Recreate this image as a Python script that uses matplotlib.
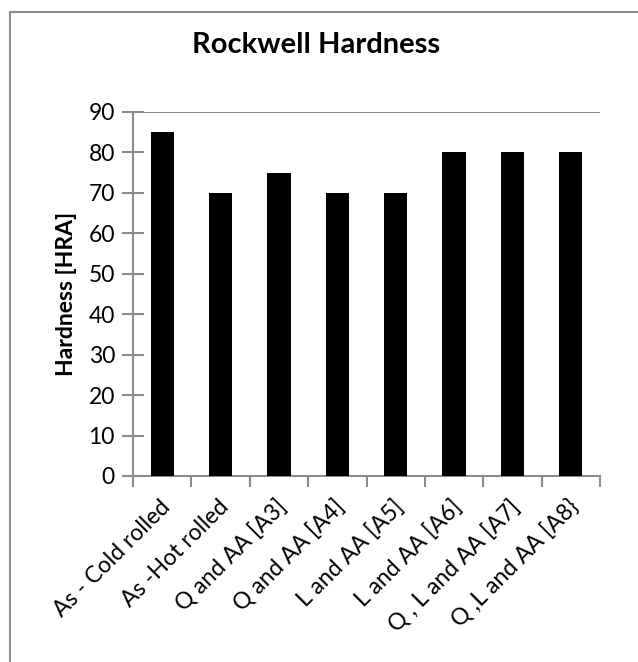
import matplotlib
matplotlib.use("Agg")
import matplotlib.pyplot as plt
from matplotlib.patches import Rectangle
import numpy as np

categories = ["As - Cold rolled", "As -Hot rolled", "Q and AA [A3]", "Q and AA [A4]",
              "L and AA [A5]", "L and AA [A6]", "Q , L and AA [A7]", "Q ,L and AA [A8}"]
hardness = [85, 70, 75, 70, 70, 80, 80, 80]
yticks = [0, 10, 20, 30, 40, 50, 60, 70, 80, 90]

plt.rcParams['font.family'] = ['Lato', 'DejaVu Sans']

W, H = 638, 662
fig = plt.figure(figsize=(W / 100, H / 100), dpi=100)
fig.patch.set_facecolor('white')

# figure border (Excel chart area)
fig.patches.append(Rectangle((10 / W, -0.1), 1.2, 1 - 12 / H + 0.1,
                             transform=fig.transFigure, fill=False,
                             edgecolor='#8c8c8c', linewidth=1.5, zorder=0))

ax = fig.add_axes([133 / W, 1 - 476 / H, (600 - 133) / W, (476 - 112) / H])
n = len(categories)
x = np.arange(n)
ax.bar(x, hardness, width=0.4, color='black', zorder=3)
ax.set_xlim(-0.5, n - 0.5)
ax.set_ylim(0, 90)

gray = '#8c8c8c'
for s in ['top', 'right']:
    ax.spines[s].set_visible(False)
for s in ['left', 'bottom']:
    ax.spines[s].set_color(gray)
    ax.spines[s].set_linewidth(1.5)
ax.axhline(90, color=gray, linewidth=1.5, zorder=1)

ax.set_yticks(yticks)
ax.set_yticklabels([str(v) for v in yticks], fontsize=16.5)
ax.tick_params(axis='y', direction='inout', length=16, width=1.5, color=gray, pad=5)

ax.set_xticks(np.arange(n + 1) - 0.5)
ax.set_xticklabels([])
ax.tick_params(axis='x', which='major', direction='out', length=8, width=1.5, color=gray)
ax.set_xticks(x + 0.08, minor=True)
ax.set_xticklabels(categories, minor=True, rotation=45, ha='right', va='center',
                   rotation_mode='anchor', fontsize=16.5)
ax.tick_params(axis='x', which='minor', length=0, pad=20)

ax.set_ylabel("Hardness [HRA]", fontsize=16.5, fontweight='bold', labelpad=8)
fig.text(316 / W, 1 - 45 / H, "Rockwell Hardness", ha='center', va='center',
         fontsize=21, fontweight='bold')

fig.savefig("out.png", dpi=100)
